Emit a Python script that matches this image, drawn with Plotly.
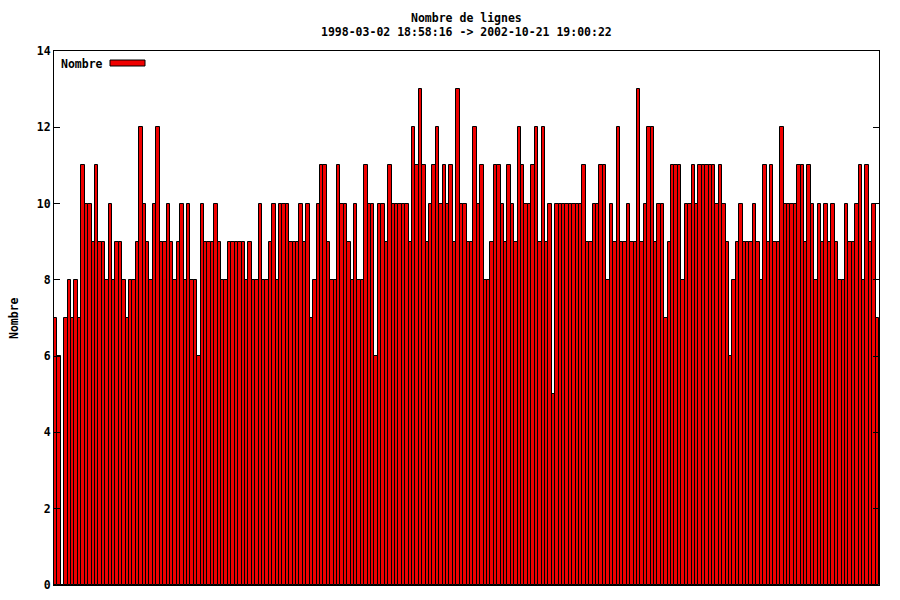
import plotly.graph_objects as go

# Weekly counts (bars left to right)
seg1 = [7,6,0,7,8,7,8,7,11,10,10,9,11,9,9,8,10,8,9]
seg2 = [9,8,7,8,8,9,12,10,9,8,10,12,9,9,10,9,8,9,10,8,10]
seg3 = [8,8,6,10,9,9,9,10,9,8,8,9,9,9,9,9,8,9,8,8]
seg4 = [10,8,8,9,10,8,10,10,10,9,9,9,10,9,10,7,8,10,11,11,9]
seg5 = [8,8,11,10,10,9,8,10,8,8,11,10,10,6,10,10,9,11,10,10]
seg6 = [10,10,10,9,12,11,13,11,9,10,11,12,10,11,10,11,9,13,10,10,9]
seg7 = [9,12,10,11,8,8,9,11,11,10,9,11,10,9,12,11,10,10,11,12]
seg8 = [9,12,9,10,5,10,10,10,10,10,10,10,10,11,9,9,10,10,11,11,8]
seg9 = [10,9,12,9,9,10,9,9,13,9,10,12,12,9,10,10,7,9,11,11]
seg10 = [11,8,10,10,11,10,11,11,11,11,11,10,11,10,9,6,8,9,10,9,9]
seg11 = [9,10,9,8,11,9,11,9,9,12,10,10,10,10,11,11,9,11,10,8,10]
seg12 = [9,10,9,10,9,8,8,10,9,9,10,11,8,11,9,10,7]

nombre = seg1+seg2+seg3+seg4+seg5+seg6+seg7+seg8+seg9+seg10+seg11+seg12
weeks = list(range(len(nombre)))
y_ticks = [0, 2, 4, 6, 8, 10, 12, 14]

title1 = "Nombre de lignes"
title2 = "1998-03-02 18:58:16 -> 2002-10-21 19:00:22"
font_family = "DejaVu Sans Mono"
fs = 11.5

fig = go.Figure()
fig.add_trace(go.Bar(
    x=weeks, y=nombre, name="Nombre",
    marker=dict(color="#f00000", line=dict(color="#000000", width=1)),
    showlegend=False, hoverinfo="skip",
))

W, H = 900, 600
L, R, T, B = 54, 21, 51, 15
pw = W - L - R
ph = H - T - B

def px_x(x):
    return (x - L) / pw

def px_y(y):
    return (H - B - y) / ph

fig.update_layout(
    width=W, height=H,
    margin=dict(l=L, r=R, t=T, b=B),
    paper_bgcolor="white", plot_bgcolor="white",
    bargap=0,
    font=dict(family=font_family, size=fs, color="black"),
    xaxis=dict(range=[-0.5, len(nombre) - 0.5], showticklabels=False, ticks="",
               showgrid=False, zeroline=False, showline=True, mirror=True,
               linecolor="black", linewidth=1, automargin=False),
    yaxis=dict(range=[0, 14], tickvals=y_ticks, ticktext=["<b>%d</b>" % v for v in y_ticks],
               ticks="inside", ticklen=6, tickcolor="black", showgrid=False,
               zeroline=False, showline=True, mirror="ticks", linecolor="black",
               linewidth=1, tickfont=dict(family=font_family, size=fs),
               automargin=False),
    annotations=[
        dict(text="<b>" + title1 + "</b>", x=(466 - L) / pw, y=px_y(18), xref="paper", yref="paper",
             xanchor="center", yanchor="middle", showarrow=False,
             font=dict(family=font_family, size=fs)),
        dict(text="<b>" + title2 + "</b>", x=(466 - L) / pw, y=px_y(32), xref="paper", yref="paper",
             xanchor="center", yanchor="middle", showarrow=False,
             font=dict(family=font_family, size=fs)),
        dict(text="<b>Nombre</b>", x=px_x(14), y=0.5, xref="paper", yref="paper",
             textangle=-90, xanchor="center", yanchor="middle", showarrow=False,
             font=dict(family=font_family, size=fs)),
        dict(text="<b>Nombre</b>", x=px_x(59), y=px_y(64), xref="paper", yref="paper",
             xanchor="left", yanchor="middle", showarrow=False,
             font=dict(family=font_family, size=fs)),
    ],
    shapes=[
        dict(type="rect", xref="paper", yref="paper",
             x0=px_x(110), x1=px_x(145), y0=px_y(66), y1=px_y(60),
             fillcolor="#f00000", line=dict(color="black", width=1)),
    ],
)

fig.write_html("out.html", config={"displayModeBar": False},
               post_script="document.body.style.margin='0px';")
